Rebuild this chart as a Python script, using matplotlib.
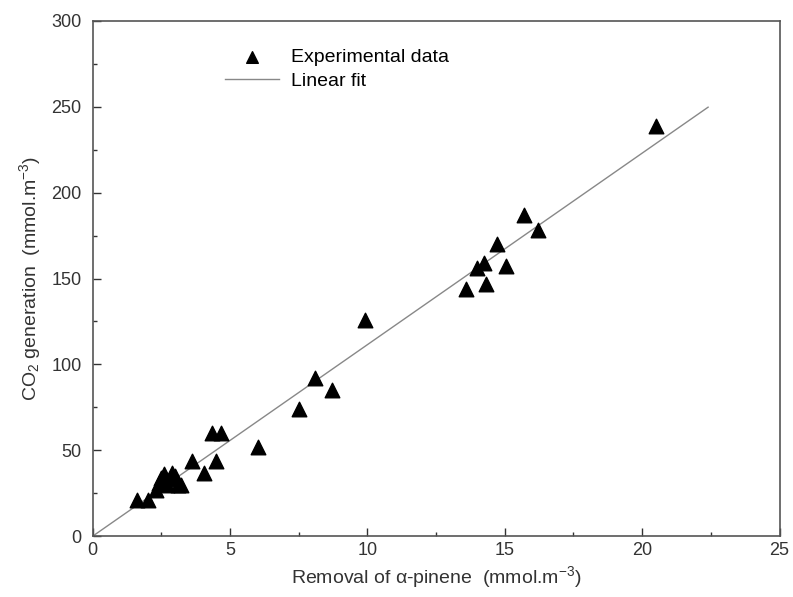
#
# plot.py
# CO2 generation against removal of alpha-pinene, with linear fit
#

import numpy as np
import matplotlib.pyplot as plt

# Experimental data (mmol.m^-3)
removal = [1.6, 2.0, 2.3, 2.4, 2.5, 2.6, 2.7, 2.8, 2.9, 3.0, 3.1, 3.2,
           3.6, 4.05, 4.35, 4.5, 4.65, 6.0, 7.5, 8.1, 8.7, 9.9,
           13.6, 13.97, 14.26, 14.3, 14.7, 15.05, 15.7, 16.2, 20.5]
co2 = [21, 21, 27, 31, 34, 36, 30, 33, 37, 35, 30, 30,
       44, 37, 60, 44, 60, 52, 74, 92, 85, 126,
       144, 156, 159, 147, 170, 157.5, 187, 178.5, 239]

# Linear fit through the origin
fit_slope = 11.15
fit_x = np.array([0, 22.4])

plt.rcParams['font.family'] = ['Liberation Sans', 'DejaVu Sans']
plt.rcParams['mathtext.fontset'] = 'custom'
plt.rcParams['mathtext.rm'] = 'Liberation Sans'
plt.rcParams['mathtext.it'] = 'Liberation Sans:italic'

fig = plt.figure(figsize=(7.93, 5.97), dpi=100)
ax = fig.add_axes([0.117, 0.102, 0.866, 0.863])

ax.plot(fit_x, fit_slope * fit_x, color='#888888', lw=1.0, label='Linear fit')
ax.scatter(removal, co2, marker='^', s=110, color='black', zorder=3,
           label='Experimental data')

ax.set_xlim(0, 25)
ax.set_ylim(0, 300)
ax.set_xticks(np.arange(0, 26, 5))
ax.set_xticks(np.arange(0, 25.1, 2.5), minor=True)
ax.set_yticks(np.arange(0, 301, 50))
ax.set_yticks(np.arange(0, 301, 25), minor=True)
ax.tick_params(which='both', direction='in', top=False, right=False,
               labelsize=13, colors='#333333', width=1.0)
ax.tick_params(which='major', length=6)
ax.tick_params(which='minor', length=3)
ax.tick_params(axis='y', which='major', pad=8)
ax.tick_params(axis='x', which='major', pad=4)
for s in ax.spines.values():
    s.set_color('#555555')
    s.set_linewidth(1.2)

ax.set_xlabel('Removal of α-pinene  (mmol.m$^{-3}$)',
              fontsize=14, color='#333333', labelpad=4)
ax.set_ylabel(r'CO$_2$ generation  (mmol.m$^{-3}$)',
              fontsize=14, color='#333333', labelpad=6)

handles, labels = ax.get_legend_handles_labels()
ax.legend(handles[::-1], labels[::-1], loc='upper left',
          bbox_to_anchor=(0.167, 0.98), frameon=False, fontsize=14,
          handlelength=2.8, labelspacing=0.3, scatterpoints=1,
          markerscale=0.8, handletextpad=0.6)

plt.savefig('out.png', dpi=100)
